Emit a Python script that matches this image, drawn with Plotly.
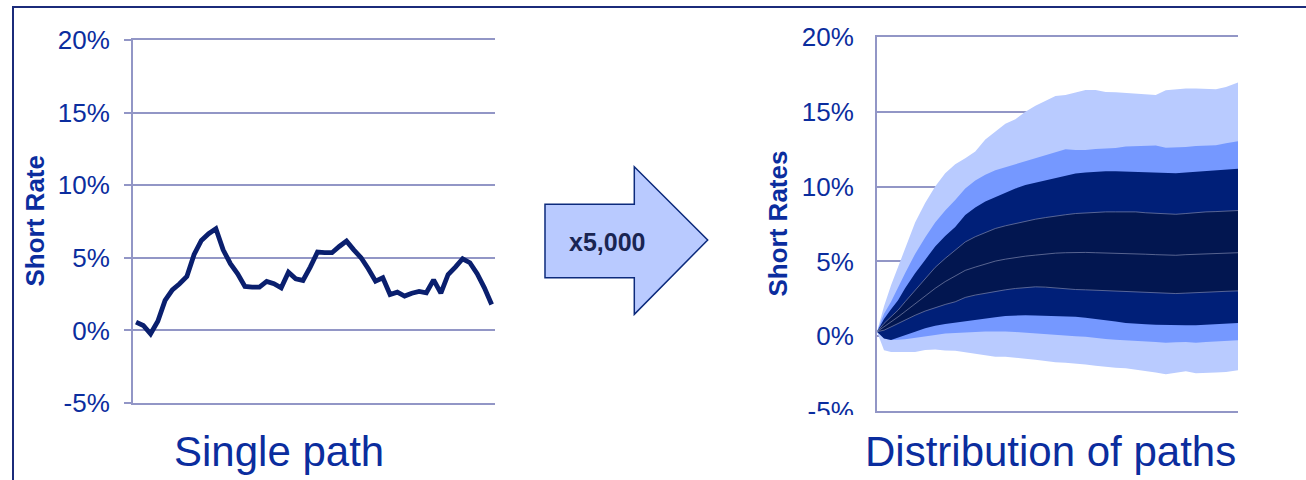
import plotly.graph_objects as go

W, H = 1306, 480
FONT = "Liberation Sans, Arial, sans-serif"
TEXT_BLUE = "#0B2D9E"
GRID = "#9296C6"

# ---- left panel: one simulated short-rate path (% p.a.) ----
path_steps = list(range(50))
path_rate = [0.57, 0.34, -0.23, 0.64, 2.07, 2.80, 3.22, 3.72, 5.24, 6.21,
             6.67, 7.01, 5.56, 4.60, 3.91, 3.03, 2.99, 2.99, 3.38, 3.22,
             2.94, 4.02, 3.56, 3.45, 4.37, 5.40, 5.36, 5.36, 5.79, 6.16,
             5.56, 5.01, 4.25, 3.40, 3.63, 2.48, 2.64, 2.37, 2.57, 2.69,
             2.60, 3.49, 2.57, 3.86, 4.37, 4.94, 4.67, 3.91, 2.94, 1.79]

# ---- right panel: percentile envelope of 5,000 paths, by month ----
months = [0, 7, 14, 21, 28, 38, 48, 58, 68, 78, 88, 98, 108, 118, 128, 138,
          148, 158, 168, 178, 188, 198, 208, 218, 228, 238, 248, 258, 268,
          278, 288, 298, 308, 318, 328, 338, 348, 360]

outer_hi = [0.3, 2.0, 3.4, 4.6, 5.9, 7.6, 8.9, 10.0, 10.9, 11.5, 11.9, 12.35,
            13.15, 13.7, 14.2, 14.5, 15.0, 15.4, 15.75, 16.05, 16.12, 16.3,
            16.45, 16.45, 16.33, 16.3, 16.25, 16.22, 16.2, 16.12, 16.44, 16.5,
            16.55, 16.55, 16.55, 16.5, 16.65, 16.96]
mid_hi = [0.3, 1.5, 2.3, 3.3, 4.2, 5.5, 6.6, 7.6, 8.4, 9.1, 9.87, 10.4, 10.8,
          11.1, 11.3, 11.5, 11.7, 11.92, 12.1, 12.35, 12.5, 12.45, 12.45,
          12.52, 12.55, 12.58, 12.68, 12.72, 12.72, 12.75, 12.6, 12.6, 12.65,
          12.72, 12.75, 12.77, 12.9, 13.03]
inner_hi = [0.3, 1.15, 1.8, 2.4, 3.2, 4.2, 5.1, 6.0, 6.7, 7.3, 8.1, 8.6, 9.0,
            9.3, 9.55, 9.87, 10.1, 10.25, 10.4, 10.6, 10.75, 10.88, 10.95,
            11.0, 11.03, 11.02, 11.0, 11.0, 10.98, 10.95, 10.92, 10.9, 10.95,
            11.0, 11.08, 11.1, 11.14, 11.2]
core_hi = [0.3, 0.85, 1.3, 1.74, 2.3, 3.07, 3.85, 4.6, 5.2, 5.75, 6.3, 6.65,
           6.95, 7.2, 7.38, 7.53, 7.7, 7.82, 7.93, 8.05, 8.12, 8.2, 8.25, 8.28,
           8.31, 8.31, 8.31, 8.31, 8.25, 8.2, 8.15, 8.15, 8.2, 8.28, 8.31,
           8.33, 8.36, 8.4]
median = [0.3, 0.62, 0.95, 1.29, 1.65, 2.18, 2.7, 3.2, 3.65, 4.05, 4.4, 4.62,
          4.82, 5.02, 5.15, 5.26, 5.35, 5.42, 5.5, 5.55, 5.58, 5.6, 5.6, 5.58,
          5.57, 5.55, 5.52, 5.5, 5.48, 5.45, 5.42, 5.41, 5.45, 5.48, 5.5,
          5.53, 5.56, 5.58]
core_lo = [0.3, 0.4, 0.62, 0.85, 1.08, 1.4, 1.68, 1.92, 2.12, 2.3, 2.59, 2.75,
           2.88, 3.0, 3.1, 3.19, 3.25, 3.3, 3.28, 3.22, 3.18, 3.12, 3.1, 3.07,
           3.04, 3.02, 3.0, 2.97, 2.95, 2.92, 2.88, 2.85, 2.88, 2.92, 2.96,
           2.98, 3.0, 3.03]
inner_lo = [0.3, -0.15, -0.25, -0.1, 0.05, 0.3, 0.53, 0.7, 0.82, 0.92, 1.0,
            1.1, 1.18, 1.26, 1.35, 1.4, 1.4, 1.39, 1.38, 1.35, 1.33, 1.3, 1.24,
            1.17, 1.08, 0.98, 0.88, 0.83, 0.8, 0.76, 0.74, 0.74, 0.74, 0.74,
            0.77, 0.8, 0.84, 0.89]
mid_lo = [0.3, -0.16, -0.25, -0.24, -0.2, -0.12, -0.03, 0.08, 0.18, 0.21,
          0.24, 0.28, 0.31, 0.33, 0.31, 0.28, 0.26, 0.22, 0.17, 0.1, 0.05, 0.0,
          -0.04, -0.1, -0.18, -0.24, -0.29, -0.33, -0.36, -0.39, -0.44, -0.4,
          -0.38, -0.44, -0.38, -0.32, -0.3, -0.27]
outer_lo = [0.3, -0.94, -1.05, -1.05, -1.06, -1.05, -0.92, -0.89, -0.95, -0.98,
            -1.1, -1.2, -1.28, -1.37, -1.38, -1.42, -1.5, -1.58, -1.68, -1.74,
            -1.78, -1.82, -1.9, -1.98, -2.06, -2.11, -2.14, -2.22, -2.33,
            -2.43, -2.54, -2.46, -2.35, -2.48, -2.47, -2.43, -2.39, -2.27]

tick_vals = [-5, 0, 5, 10, 15, 20]
tick_text = ["-5%", "0%", "5%", "10%", "15%", "20%"]

band_colors = ["#B9CBFF", "#7598FF", "#001F78", "#021650"]
bands = [(outer_hi, outer_lo), (mid_hi, mid_lo), (inner_hi, inner_lo),
         (core_hi, core_lo)]


def px(x, y):
    """Pixel position on the canvas -> paper coordinates."""
    return x / W, 1 - y / H


fig = go.Figure()

fig.add_trace(go.Scatter(
    x=path_steps, y=path_rate, mode="lines",
    line=dict(color="#0A1F6E", width=4.8, shape="linear"),
    xaxis="x", yaxis="y", hoverinfo="skip", showlegend=False))

for (hi, lo), col in zip(bands, band_colors):
    fig.add_trace(go.Scatter(
        x=months + months[::-1], y=hi + lo[::-1],
        fill="toself", fillcolor=col, mode="lines",
        line=dict(width=0, color=col),
        xaxis="x2", yaxis="y2", hoverinfo="skip", showlegend=False))

for series in (core_hi, median, core_lo):
    fig.add_trace(go.Scatter(
        x=months, y=series, mode="lines",
        line=dict(color="#7C85AA", width=0.7),
        xaxis="x2", yaxis="y2", hoverinfo="skip", showlegend=False))

x0, _ = px(133, 0)
x1, _ = px(495, 0)
_, ya0 = px(0, 403)
_, ya1 = px(0, 40.3)
x20, _ = px(877, 0)
x21, _ = px(1238, 0)
_, yb0 = px(0, 411)
_, yb1 = px(0, 37)

# horizontal axes carry no labels; their (mirrored) lines draw the
# -5% and 20% rules at the bottom and top of each panel
hidden_x = dict(showgrid=False, zeroline=False, showticklabels=False,
                showline=True, mirror=True, linecolor=GRID, linewidth=2,
                ticks="", fixedrange=True, automargin=False)

fig.update_layout(
    width=W, height=H, autosize=False,
    margin=dict(l=0, r=0, t=0, b=0, pad=0),
    paper_bgcolor="white", plot_bgcolor="white",
    font=dict(family=FONT, color=TEXT_BLUE),
    xaxis=dict(domain=[x0, x1], range=[-0.42, 49.46], anchor="y", **hidden_x),
    yaxis=dict(domain=[ya0, ya1], range=[-5, 20], anchor="x",
               tickvals=tick_vals, ticktext=tick_text,
               tickfont=dict(size=26, color=TEXT_BLUE, family=FONT),
               showgrid=True, gridcolor=GRID, gridwidth=2,
               showline=True, linecolor=GRID, linewidth=2,
               ticks="outside", ticklen=7, tickcolor=GRID, tickwidth=2,
               ticklabelstandoff=9, zeroline=False, fixedrange=True,
               automargin=False),
    xaxis2=dict(domain=[x20, x21], range=[0, 360], anchor="y2", **hidden_x),
    yaxis2=dict(domain=[yb0, yb1], range=[-5, 20], anchor="x2",
                tickvals=tick_vals, ticktext=tick_text,
                tickfont=dict(size=26, color=TEXT_BLUE, family=FONT),
                showgrid=True, gridcolor=GRID, gridwidth=2,
                showline=True, linecolor=GRID, linewidth=2,
                ticks="", ticklabelstandoff=16, zeroline=False,
                fixedrange=True, automargin=False),
    showlegend=False,
)

# outer frame of the slide panel (left and top edges)
fx0, fy1 = px(13, 7)
fig.add_shape(type="rect", xref="paper", yref="paper",
              x0=fx0, x1=1.02, y0=-0.05, y1=fy1,
              line=dict(color="#1B2B7A", width=2), fillcolor="rgba(0,0,0,0)",
              layer="above")

# block arrow between the two panels
arrow_pts = [(545, 204.3), (634.3, 204.3), (634.3, 166.7), (707.7, 240),
             (634.3, 314.3), (634.3, 277.7), (545, 277.7)]
path = "M " + " L ".join("{:.5f},{:.5f}".format(*px(x, y)) for x, y in arrow_pts) + " Z"
fig.add_shape(type="path", xref="paper", yref="paper", path=path,
              fillcolor="#B9CAFF", line=dict(color="#0C2A7C", width=1.5),
              layer="above")

# text box under the right panel masks the bottom of its lowest tick label
mx0, my0 = px(798, 415)
mx1, my1 = px(872, 428)
fig.add_shape(type="rect", xref="paper", yref="paper",
              x0=mx0, x1=mx1, y0=my1, y1=my0,
              line=dict(width=0), fillcolor="white", layer="above")

ax, ay = px(607, 241.5)
fig.add_annotation(x=ax, y=ay, xref="paper", yref="paper", text="<b>x5,000</b>",
                   showarrow=False, xanchor="center", yanchor="middle",
                   font=dict(size=25, color="#1A2552", family=FONT))

tx, ty = px(34, 221.5)
fig.add_annotation(x=tx, y=ty, xref="paper", yref="paper", text="<b>Short Rate</b>",
                   textangle=-90, showarrow=False, xanchor="center", yanchor="middle",
                   font=dict(size=26, color=TEXT_BLUE, family=FONT))
tx, ty = px(778, 223.5)
fig.add_annotation(x=tx, y=ty, xref="paper", yref="paper", text="<b>Short Rates</b>",
                   textangle=-90, showarrow=False, xanchor="center", yanchor="middle",
                   font=dict(size=26, color=TEXT_BLUE, family=FONT))

tx, ty = px(279, 451)
fig.add_annotation(x=tx, y=ty, xref="paper", yref="paper", text="Single path",
                   showarrow=False, xanchor="center", yanchor="middle",
                   font=dict(size=42, color=TEXT_BLUE, family=FONT))
tx, ty = px(1050, 451)
fig.add_annotation(x=tx, y=ty, xref="paper", yref="paper", text="Distribution of paths",
                   showarrow=False, xanchor="center", yanchor="middle",
                   font=dict(size=42, color=TEXT_BLUE, family=FONT))

fig.write_html("out.html")
